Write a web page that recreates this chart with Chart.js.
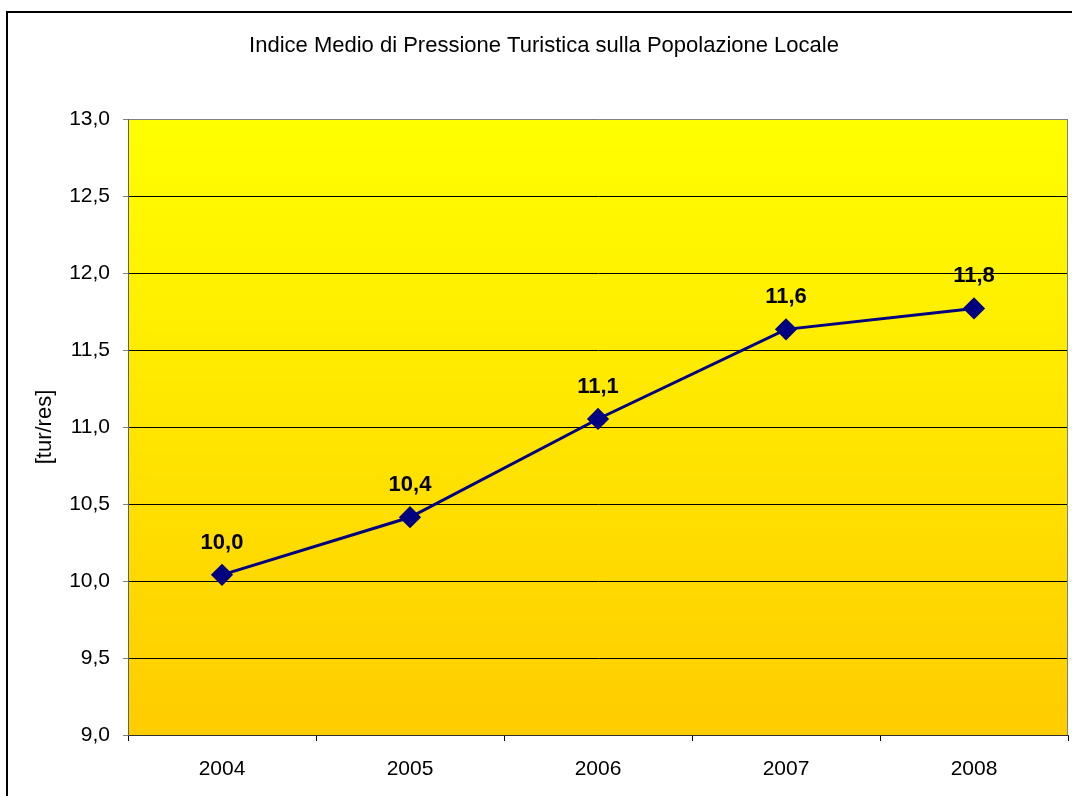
<!DOCTYPE html>
<html>
<head>
<meta charset="utf-8">
<script src="https://cdn.jsdelivr.net/npm/chart.js@4"></script>
<style>
  html, body { margin: 0; padding: 0; background: #ffffff; }
  #wrap { width: 1072px; height: 796px; position: relative; }
</style>
</head>
<body>
<div id="wrap"><canvas id="chart" width="1072" height="796"></canvas></div>
<script>
// Years and index values (tourists per resident)
const years = ['2004', '2005', '2006', '2007', '2008'];
const pressureIndex = [10.04, 10.414, 11.052, 11.634, 11.77];
const yTicks = [9.0, 9.5, 10.0, 10.5, 11.0, 11.5, 12.0, 12.5, 13.0];

const titleText = 'Indice Medio di Pressione Turistica sulla Popolazione Locale';
const yAxisTitle = '[tur/res]';

const FONT = "'Liberation Sans', Arial, sans-serif";
const fmt = v => v.toFixed(1).replace('.', ',');

// Yellow gradient plot background, plot border and outer frame
const plotBackground = {
  id: 'plotBackground',
  beforeDraw(chart) {
    const { ctx, chartArea: a } = chart;
    ctx.save();
    const g = ctx.createLinearGradient(0, a.top, 0, a.bottom);
    g.addColorStop(0, '#FFFF00');
    g.addColorStop(1, '#FFCC00');
    ctx.fillStyle = g;
    ctx.fillRect(a.left, a.top, a.right - a.left, a.bottom - a.top);
    // outer chart frame
    ctx.strokeStyle = '#000000';
    ctx.lineWidth = 2;
    ctx.beginPath();
    ctx.moveTo(7, chart.height + 2);
    ctx.lineTo(7, 12);
    ctx.lineTo(chart.width + 2, 12);
    ctx.stroke();
    ctx.restore();
  },
  afterDatasetsDraw(chart) {
    const { ctx, chartArea: a } = chart;
    ctx.save();
    ctx.strokeStyle = '#808080';
    ctx.lineWidth = 1;
    ctx.beginPath();
    ctx.moveTo(Math.round(a.right) - 0.5, a.top);
    ctx.lineTo(Math.round(a.right) - 0.5, a.bottom);
    ctx.stroke();
    ctx.restore();
  }
};

// Value labels above each point
const valueLabels = {
  id: 'valueLabels',
  afterDatasetsDraw(chart) {
    const { ctx } = chart;
    const meta = chart.getDatasetMeta(0);
    ctx.save();
    ctx.font = 'bold 22px ' + FONT;
    ctx.fillStyle = '#000000';
    ctx.textAlign = 'center';
    ctx.textBaseline = 'middle';
    meta.data.forEach((pt, i) => {
      ctx.fillText(fmt(pressureIndex[i]), pt.x, pt.y - 32);
    });
    ctx.restore();
  }
};

new Chart(document.getElementById('chart'), {
  type: 'line',
  data: {
    labels: years,
    datasets: [{
      data: pressureIndex,
      borderColor: '#000080',
      borderWidth: 3,
      backgroundColor: '#000080',
      pointStyle: 'rectRot',
      pointRadius: 9,
      pointHoverRadius: 9,
      pointBorderColor: '#000080',
      pointBackgroundColor: '#000080',
      tension: 0,
      fill: false
    }]
  },
  options: {
    responsive: false,
    animation: false,
    devicePixelRatio: 1,
    layout: { autoPadding: false, padding: { left: 20, right: 4, top: 0, bottom: 0 } },
    plugins: {
      legend: { display: false },
      tooltip: { enabled: false },
      title: {
        display: true,
        text: titleText,
        color: '#000000',
        font: { family: FONT, size: 22, weight: 'normal', lineHeight: 1.2 },
        padding: { top: 33, bottom: 59.6 }
      }
    },
    scales: {
      x: {
        offset: true,
        grid: {
          display: true,
          offset: true,
          drawOnChartArea: false,
          drawTicks: true,
          tickLength: 6,
          color: '#000000',
          tickColor: '#000000'
        },
        border: { display: true, color: '#303030', width: 1 },
        ticks: {
          color: '#000000',
          font: { family: FONT, size: 21 },
          padding: 16,
          maxRotation: 0
        },
        afterFit(scale) {
          scale.height = 61;
          scale.paddingLeft = 0;
          scale.paddingRight = 0;
        }
      },
      y: {
        min: 9,
        max: 13,
        afterBuildTicks(scale) { scale.ticks = yTicks.map(v => ({ value: v })); },
        grid: {
          color: ctx => (ctx.tick && ctx.tick.value === 13 ? '#808080' : '#000000'),
          tickColor: '#808080',
          tickLength: 5,
          lineWidth: 1
        },
        border: { display: true, color: '#606060', width: 1 },
        ticks: {
          color: '#000000',
          font: { family: FONT, size: 21 },
          padding: 13,
          callback: v => fmt(v)
        },
        title: {
          display: true,
          text: yAxisTitle,
          color: '#000000',
          font: { family: FONT, size: 22, lineHeight: 1.2 },
          padding: { top: 12, bottom: 0 }
        },
        afterFit(scale) { scale.width = 108; }
      }
    }
  },
  plugins: [plotBackground, valueLabels]
});
</script>
</body>
</html>
